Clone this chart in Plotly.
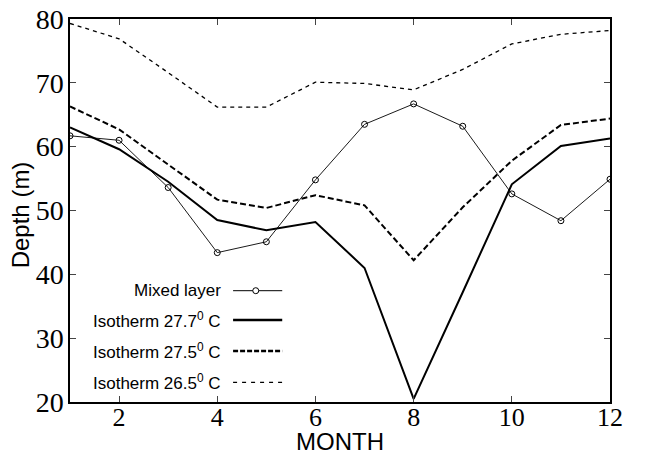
import plotly.graph_objects as go

months = list(range(1, 13))
mixed_layer = [61.7, 61.0, 53.6, 43.4, 45.1, 54.8, 63.5, 66.7, 63.2, 52.6, 48.4, 54.9]
iso_277 = [63.0, 59.6, 54.5, 48.5, 46.9, 48.2, 41.0, 20.5, 37.2, 54.1, 60.1, 61.3]
iso_275 = [66.3, 62.7, 57.2, 51.7, 50.4, 52.4, 50.8, 42.2, 50.5, 57.8, 63.4, 64.4]
iso_265 = [79.3, 76.9, 71.6, 66.2, 66.2, 70.1, 69.9, 68.9, 72.1, 76.1, 77.6, 78.2]

legend_labels = ["Mixed layer", "Isotherm 27.7<sup>0</sup> C",
                 "Isotherm 27.5<sup>0</sup> C", "Isotherm 26.5<sup>0</sup> C"]

x_ticks = [2, 4, 6, 8, 10, 12]
y_ticks = [20, 30, 40, 50, 60, 70, 80]

fig = go.Figure()
fig.add_trace(go.Scatter(x=months, y=iso_265, mode="lines",
                         line=dict(color="black", width=1.3, dash="4px,4px")))
fig.add_trace(go.Scatter(x=months, y=iso_275, mode="lines",
                         line=dict(color="black", width=2, dash="6px,3px")))
fig.add_trace(go.Scatter(x=months, y=iso_277, mode="lines",
                         line=dict(color="black", width=2)))
fig.add_trace(go.Scatter(x=months, y=mixed_layer, mode="lines+markers",
                         line=dict(color="black", width=0.9),
                         marker=dict(symbol="circle-open", size=6, color="black",
                                     line=dict(width=1, color="black"))))

# manual legend (text left, sample right)
rows_y = [0.2906, 0.214, 0.133, 0.051]
styles = [dict(width=1, dash="solid"), dict(width=2.5, dash="solid"),
          dict(width=2.5, dash="5px,2px"), dict(width=1.3, dash="4px,5px")]
for lab, yy, st in zip(legend_labels, rows_y, styles):
    fig.add_annotation(x=0.284, y=yy, xref="paper", yref="paper", text=lab,
                       showarrow=False, xanchor="right", yanchor="middle",
                       font=dict(family="Liberation Sans", size=17, color="black"))
    fig.add_shape(type="line", xref="paper", yref="paper", x0=0.302, x1=0.393,
                  y0=yy, y1=yy, line=dict(color="black", **st))
fig.add_shape(type="circle", xref="paper", yref="paper", xsizemode="pixel",
              ysizemode="pixel", xanchor=0.344, yanchor=rows_y[0],
              x0=-3, x1=3, y0=-3, y1=3, line=dict(color="black", width=1),
              fillcolor="white")

# axis titles
fig.add_annotation(x=0.5, y=-0.102, xref="paper", yref="paper", text="MONTH",
                   showarrow=False, xanchor="center", yanchor="middle",
                   font=dict(family="Liberation Sans", size=24, color="black"))
fig.add_annotation(x=-0.0926, y=0.49, xref="paper", yref="paper", text="Depth (m)",
                   showarrow=False, xanchor="center", yanchor="middle", textangle=-90,
                   font=dict(family="Liberation Sans", size=24, color="black"))

fig.update_layout(
    width=648, height=457,
    margin=dict(l=70, r=38, t=19, b=55, autoexpand=False),
    paper_bgcolor="white", plot_bgcolor="white",
    showlegend=False,
)
fig.update_xaxes(range=[1, 12], tickvals=x_ticks, ticks="inside", ticklen=6,
                 showline=True, linecolor="black", linewidth=1.5, mirror="ticks",
                 showgrid=False, zeroline=False, automargin=False, ticklabelstandoff=-9,
                 ticklabeloverflow="allow",
                 tickfont=dict(family="Liberation Serif", size=26, color="black"))
fig.update_yaxes(range=[20, 80], tickvals=y_ticks, ticks="inside", ticklen=6,
                 showline=True, linecolor="black", linewidth=1.5, mirror="ticks",
                 showgrid=False, zeroline=False, automargin=False, ticklabelstandoff=-1,
                 ticklabeloverflow="allow",
                 tickfont=dict(family="Liberation Serif", size=28, color="black"))

fig.write_html("out.html", config={"displayModeBar": False},
               post_script="document.body.style.margin='0';document.body.style.overflow='hidden';")
